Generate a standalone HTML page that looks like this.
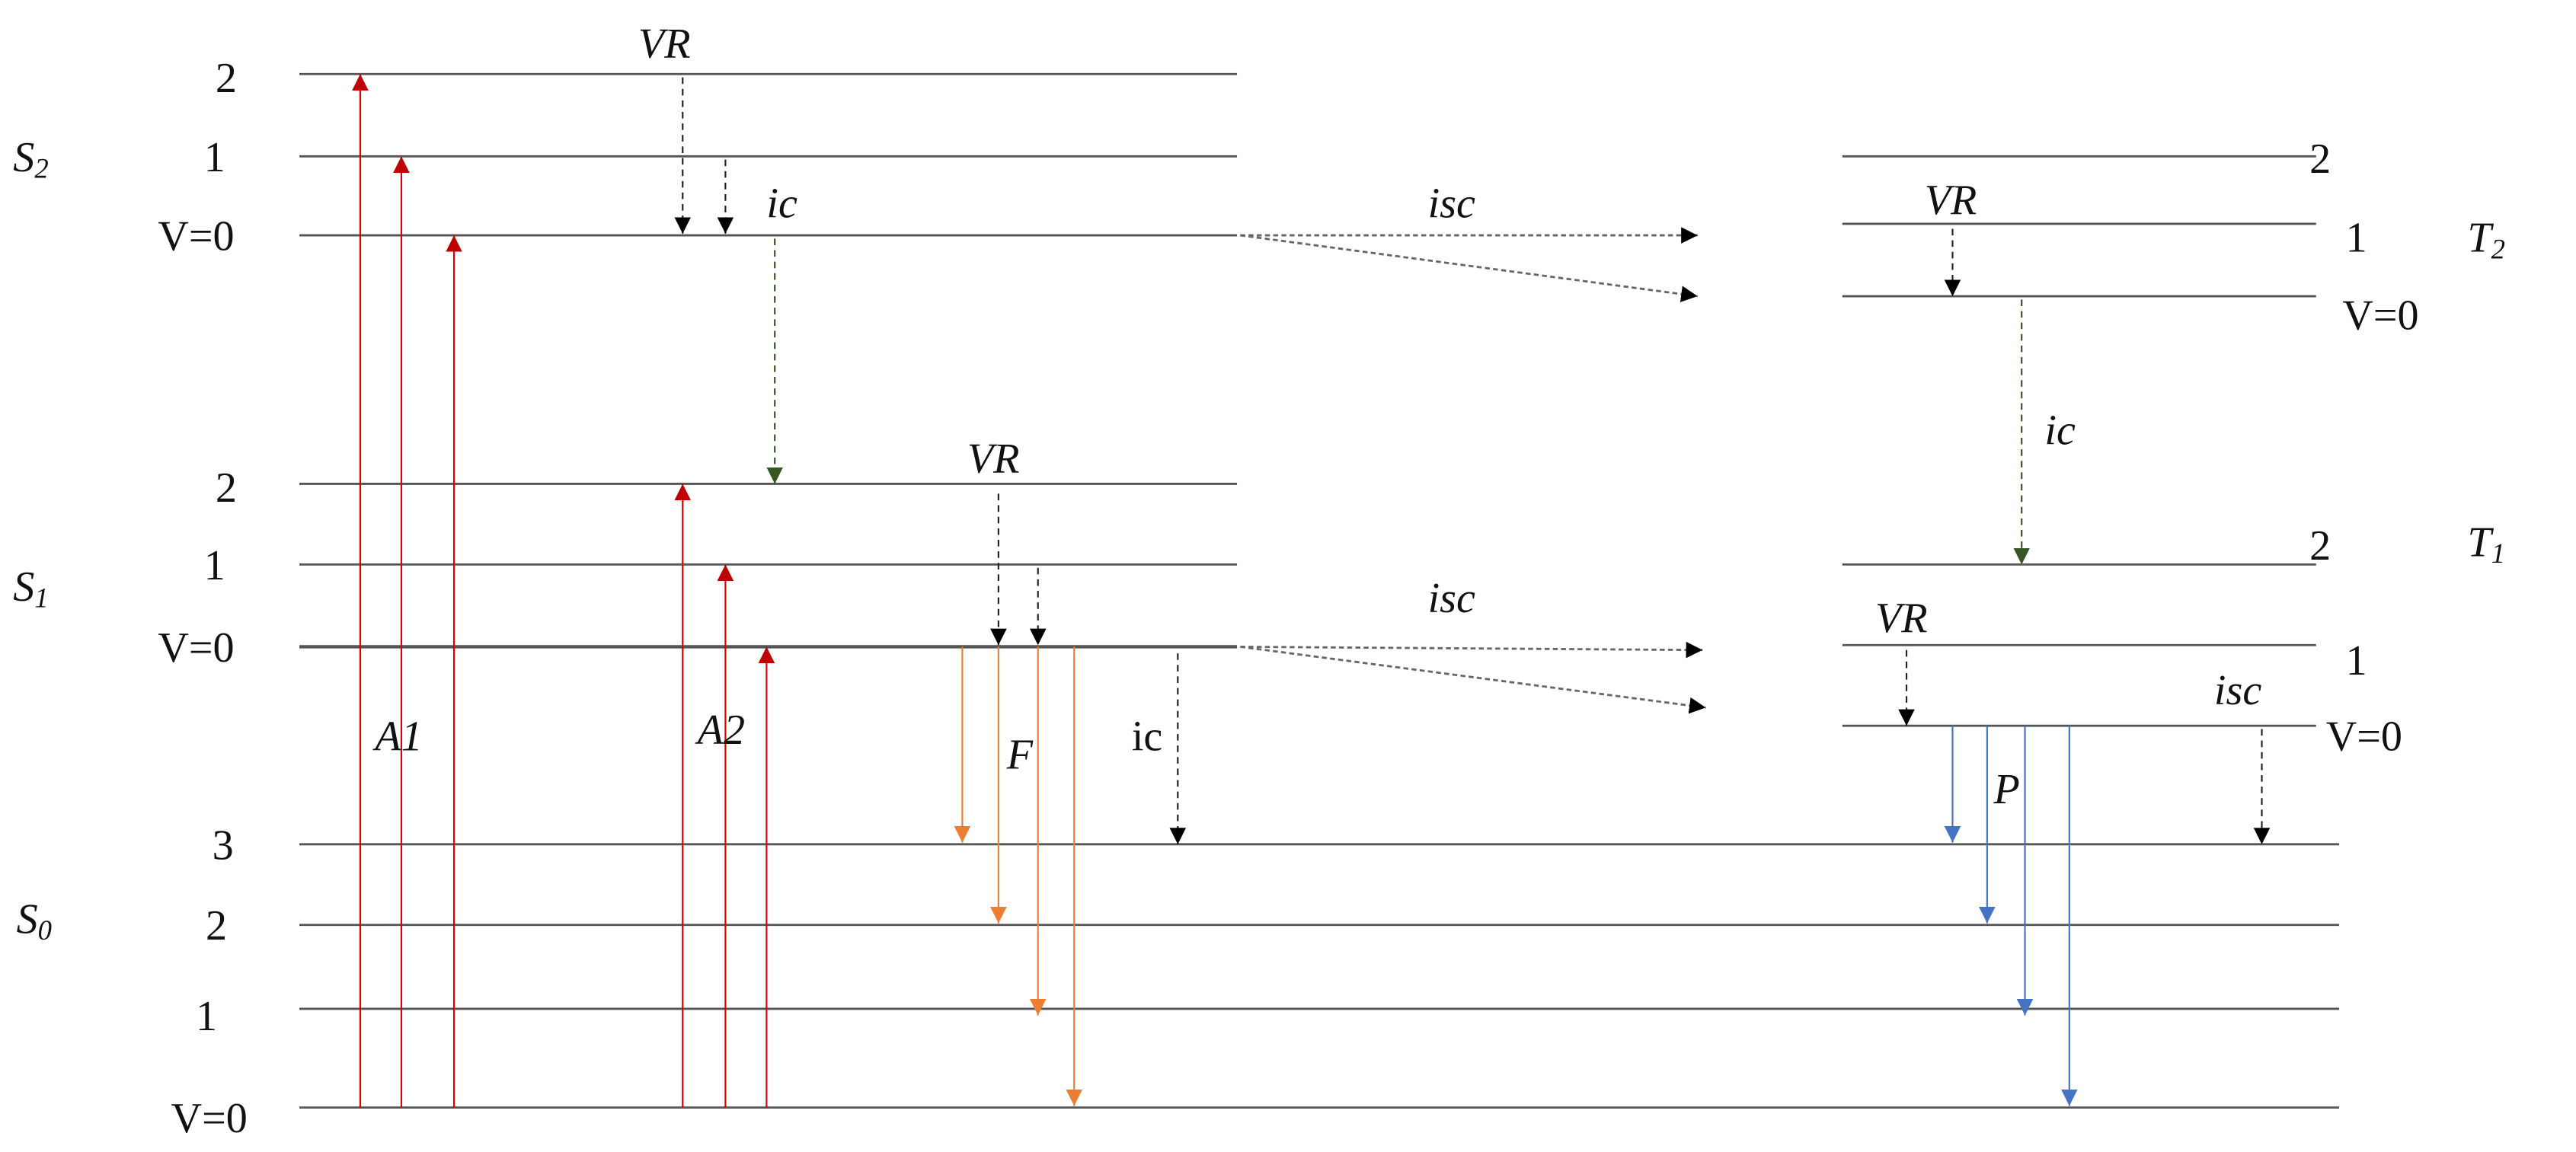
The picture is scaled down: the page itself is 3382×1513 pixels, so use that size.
<!DOCTYPE html>
<html><head><meta charset="utf-8"><style>
html,body{margin:0;padding:0;background:#fff;}
svg{display:block;}
text{font-family:"Liberation Serif",serif;fill:#111;}
.it{font-style:italic;}
</style></head><body>
<svg width="3382" height="1513" viewBox="0 0 1566 700" preserveAspectRatio="none" xmlns="http://www.w3.org/2000/svg">
<defs>
<marker id="ar" viewBox="0 0 10 10" refX="10" refY="5" markerWidth="10" markerHeight="10" markerUnits="userSpaceOnUse" orient="auto"><path d="M0,0 L10,5 L0,10z" fill="#c00000"/></marker>
<marker id="ak" viewBox="0 0 10 10" refX="10" refY="5" markerWidth="10" markerHeight="10" markerUnits="userSpaceOnUse" orient="auto"><path d="M0,0 L10,5 L0,10z" fill="#000"/></marker>
<marker id="ag" viewBox="0 0 10 10" refX="10" refY="5" markerWidth="10" markerHeight="10" markerUnits="userSpaceOnUse" orient="auto"><path d="M0,0 L10,5 L0,10z" fill="#375623"/></marker>
<marker id="ao" viewBox="0 0 10 10" refX="10" refY="5" markerWidth="10" markerHeight="10" markerUnits="userSpaceOnUse" orient="auto"><path d="M0,0 L10,5 L0,10z" fill="#ed7d31"/></marker>
<marker id="ab" viewBox="0 0 10 10" refX="10" refY="5" markerWidth="10" markerHeight="10" markerUnits="userSpaceOnUse" orient="auto"><path d="M0,0 L10,5 L0,10z" fill="#4472c4"/></marker>
</defs>
<g stroke="#555" stroke-width="1.3">
<line x1="182" y1="45" x2="752" y2="45"/>
<line x1="182" y1="95" x2="752" y2="95"/>
<line x1="182" y1="143" x2="752" y2="143"/>
<line x1="182" y1="294" x2="752" y2="294"/>
<line x1="182" y1="343" x2="752" y2="343"/>
<line x1="182" y1="393" x2="752" y2="393" stroke-width="2"/>
<line x1="182" y1="513" x2="1422" y2="513"/>
<line x1="182" y1="562" x2="1422" y2="562"/>
<line x1="182" y1="613" x2="1422" y2="613"/>
<line x1="182" y1="673" x2="1422" y2="673"/>
<line x1="1120" y1="95" x2="1408" y2="95"/>
<line x1="1120" y1="136" x2="1408" y2="136"/>
<line x1="1120" y1="180" x2="1408" y2="180"/>
<line x1="1120" y1="343" x2="1408" y2="343"/>
<line x1="1120" y1="392" x2="1408" y2="392"/>
<line x1="1120" y1="441" x2="1408" y2="441"/>
</g>
<g stroke="#e00000" stroke-width="1">
<line x1="219" y1="673" x2="219" y2="45" marker-end="url(#ar)"/>
<line x1="244" y1="673" x2="244" y2="95" marker-end="url(#ar)"/>
<line x1="276" y1="673" x2="276" y2="143" marker-end="url(#ar)"/>
<line x1="415" y1="673" x2="415" y2="294" marker-end="url(#ar)"/>
<line x1="441" y1="673" x2="441" y2="343" marker-end="url(#ar)"/>
<line x1="466" y1="673" x2="466" y2="393" marker-end="url(#ar)"/>
</g>
<g stroke="#222" stroke-width="1" stroke-dasharray="4,3">
<line x1="415" y1="47" x2="415" y2="142" marker-end="url(#ak)"/>
<line x1="441" y1="97" x2="441" y2="142" marker-end="url(#ak)"/>
<line x1="607" y1="300" x2="607" y2="392" marker-end="url(#ak)"/>
<line x1="631" y1="345" x2="631" y2="392" marker-end="url(#ak)"/>
<line x1="716" y1="397" x2="716" y2="513" marker-end="url(#ak)"/>
<line x1="1187" y1="139" x2="1187" y2="180" marker-end="url(#ak)"/>
<line x1="1159" y1="395" x2="1159" y2="441" marker-end="url(#ak)"/>
<line x1="1375" y1="443" x2="1375" y2="513" marker-end="url(#ak)"/>
</g>
<g stroke="#375623" stroke-width="1" stroke-dasharray="4,3">
<line x1="471" y1="145" x2="471" y2="294" marker-end="url(#ag)"/>
<line x1="1229" y1="182" x2="1229" y2="343" marker-end="url(#ag)"/>
</g>
<g stroke="#666" stroke-width="1.3" stroke-dasharray="3,2">
<line x1="754" y1="143" x2="1032" y2="143" marker-end="url(#ak)"/>
<line x1="754" y1="143" x2="1032" y2="180" marker-end="url(#ak)"/>
<line x1="754" y1="393" x2="1035" y2="395" marker-end="url(#ak)"/>
<line x1="754" y1="393" x2="1037" y2="430" marker-end="url(#ak)"/>
</g>
<g stroke="#ed7d31" stroke-width="1">
<line x1="585" y1="393" x2="585" y2="512" marker-end="url(#ao)"/>
<line x1="607" y1="393" x2="607" y2="561" marker-end="url(#ao)"/>
<line x1="631" y1="393" x2="631" y2="617" marker-end="url(#ao)"/>
<line x1="653" y1="393" x2="653" y2="672" marker-end="url(#ao)"/>
</g>
<g stroke="#4472c4" stroke-width="1">
<line x1="1187" y1="441" x2="1187" y2="512" marker-end="url(#ab)"/>
<line x1="1208" y1="441" x2="1208" y2="561" marker-end="url(#ab)"/>
<line x1="1231" y1="441" x2="1231" y2="617" marker-end="url(#ab)"/>
<line x1="1258" y1="441" x2="1258" y2="672" marker-end="url(#ab)"/>
</g>
<g font-size="26">
<text x="131" y="56">2</text>
<text x="124" y="104">1</text>
<text x="96" y="152">V=0</text>
<text x="131" y="305">2</text>
<text x="124" y="352">1</text>
<text x="96" y="402">V=0</text>
<text x="129" y="522">3</text>
<text x="125" y="571">2</text>
<text x="119" y="626">1</text>
<text x="104" y="688">V=0</text>
<text x="1404" y="105">2</text>
<text x="1426" y="153">1</text>
<text x="1424" y="200">V=0</text>
<text x="1404" y="340">2</text>
<text x="1426" y="410">1</text>
<text x="1414" y="456">V=0</text>
<text x="688" y="456">ic</text>
</g>
<g font-size="26" class="it">
<text class="it" x="8" y="104">S<tspan font-size="17" dy="4">2</tspan></text>
<text class="it" x="8" y="365">S<tspan font-size="17" dy="4">1</tspan></text>
<text class="it" x="10" y="567">S<tspan font-size="17" dy="4">0</tspan></text>
<text class="it" x="1500" y="153">T<tspan font-size="17" dy="4">2</tspan></text>
<text class="it" x="1500" y="338">T<tspan font-size="17" dy="4">1</tspan></text>
<text class="it" x="388" y="35">VR</text>
<text class="it" x="466" y="132">ic</text>
<text class="it" x="588" y="287">VR</text>
<text class="it" x="1170" y="130">VR</text>
<text class="it" x="1140" y="384">VR</text>
<text class="it" x="868" y="132">isc</text>
<text class="it" x="868" y="372">isc</text>
<text class="it" x="1346" y="428">isc</text>
<text class="it" x="1243" y="270">ic</text>
<text class="it" x="228" y="456">A1</text>
<text class="it" x="424" y="452">A2</text>
<text class="it" x="612" y="467">F</text>
<text class="it" x="1212" y="488">P</text>
</g>
</svg>
</body></html>
